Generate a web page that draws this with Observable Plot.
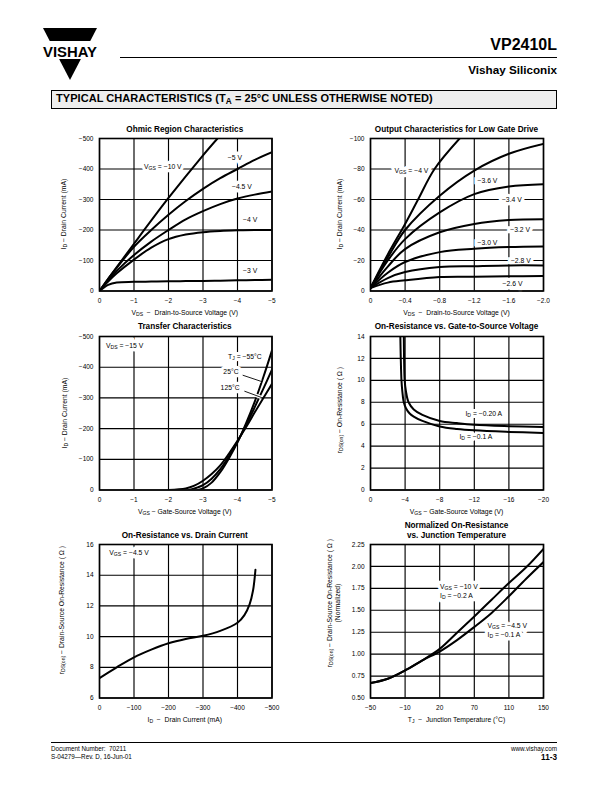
<!DOCTYPE html>
<html><head><meta charset="utf-8">
<script src="https://cdn.jsdelivr.net/npm/d3@7"></script>
<script src="https://cdn.jsdelivr.net/npm/@observablehq/plot@0.6"></script>
<style>
html,body{margin:0;padding:0;background:#fff;}
#page{position:relative;width:612px;height:792px;overflow:hidden;font-family:"Liberation Sans",Arial,Helvetica,sans-serif;color:#000;background:#fff;}
.abs{position:absolute;white-space:pre;}
sub{font-size:75%;vertical-align:-0.28em;line-height:0;}
</style></head><body><div id="page"></div>
<script>
// ---------------- DATA ----------------
// Ohmic Region Characteristics
const ohmicVds = [0, -0.25, -0.5, -1, -1.5, -2, -2.5, -3, -3.5, -4, -4.5, -5];
const ohmicId_5 = [0, -40, -76, -145, -200, -250, -295, -335, -370, -400, -430, -455];
const ohmicId_4p5 = [0, -35, -66, -118, -162, -200, -235, -262, -285, -303, -316, -326];
const ohmicId_4 = [0, -31, -58, -103, -142, -170, -185, -193, -197, -199, -200, -200];
const ohmicId_3 = [0, -20, -28, -30, -31, -32, -32.5, -33, -34, -35, -36, -37];
const ohmicVds_10 = [0, -0.5, -1, -2, -3, -3.42];
const ohmicId_10 = [0, -78, -155, -305, -445, -500];
const ohmicXTicks = [0, -1, -2, -3, -4, -5];
const ohmicXLabels = ["0", "−1", "−2", "−3", "−4", "−5"];
const ohmicYTicks = [0, -100, -200, -300, -400, -500];
const ohmicYLabels = ["0", "−100", "−200", "−300", "−400", "−500"];
const ohmicNotes = [
  {x: -1.29, y: -406, t: "V_{GS} = −10 V", a: "start"},
  {x: -3.72, y: -436, t: "−5 V", a: "start"},
  {x: -3.84, y: -341, t: "−4.5 V", a: "start"},
  {x: -4.16, y: -233, t: "−4 V", a: "start"},
  {x: -4.16, y: -66, t: "−3 V", a: "start"}
];

// Output Characteristics for Low Gate Drive
const outVds = [0, -0.2, -0.4, -0.8, -1.2, -1.6, -2.0];
const outId_3p6 = [-2, -22, -40, -62.5, -79, -90, -96.5];
const outId_3p4 = [-2, -20, -34, -51.5, -63.5, -68.5, -70];
const outId_3p2 = [-2, -16, -27.5, -38.5, -44, -46.5, -47];
const outId_3p0 = [-2, -12, -19, -25.5, -27.7, -28.8, -29.2];
const outId_2p8 = [-2, -8.5, -12.4, -15.7, -16.3, -16.8, -16.8];
const outId_2p6 = [-2, -5.5, -7, -9.2, -9.4, -9.6, -9.8];
const outVds_4 = [0, -0.2, -0.4, -0.55, -0.74, -1.03];
const outId_4 = [-2, -24, -44, -60, -80, -100];
const outXTicks = [0, -0.4, -0.8, -1.2, -1.6, -2.0];
const outXLabels = ["0", "−0.4", "−0.8", "−1.2", "−1.6", "−2.0"];
const outYTicks = [0, -20, -40, -60, -80, -100];
const outYLabels = ["0", "−20", "−40", "−60", "−80", "−100"];
const outNotes = [
  {x: -0.278, y: -78.7, t: "V_{GS} = −4 V", a: "start"},
  {x: -1.237, y: -72.1, t: "−3.6 V", a: "start"},
  {x: -1.519, y: -59.7, t: "−3.4 V", a: "start"},
  {x: -1.615, y: -39.8, t: "−3.2 V", a: "start"},
  {x: -1.237, y: -31.3, t: "−3.0 V", a: "start"},
  {x: -1.623, y: -19.7, t: "−2.8 V", a: "start"},
  {x: -1.527, y: -4.8, t: "−2.6 V", a: "start"}
];

// Transfer Characteristics
const trVgs_m55 = [-2.85, -3.0, -3.25, -3.5, -3.75, -4, -4.25, -4.5, -4.75, -5];
const trId_m55 = [0, -5, -24, -58, -103, -155, -218, -288, -368, -455];
const trVgs_25 = [-2.6, -3.0, -3.25, -3.5, -3.75, -4, -4.25, -4.5, -4.75, -5];
const trId_25 = [0, -16, -37, -68, -110, -158, -212, -270, -330, -392];
const trVgs_125 = [-2.0, -2.5, -2.75, -3.0, -3.25, -3.5, -3.75, -4, -4.25, -4.5, -4.75, -5];
const trId_125 = [0, -5, -14, -30, -52, -80, -118, -160, -205, -253, -300, -346];
const trXTicks = [0, -1, -2, -3, -4, -5];
const trXLabels = ["0", "−1", "−2", "−3", "−4", "−5"];
const trYTicks = [0, -100, -200, -300, -400, -500];
const trYLabels = ["0", "−100", "−200", "−300", "−400", "−500"];
const trNotes = [
  {x: -0.188, y: -470.7, t: "V_{DS} = −15 V", a: "start"},
  {x: -4.70, y: -435, t: "T_{J} = −55°C", a: "end"},
  {x: -4.03, y: -384, t: "25°C", a: "end"},
  {x: -4.06, y: -333, t: "125°C", a: "end"}
];
const trLeaders = [
  {x1: -4.15, y1: -374, x2: -4.68, y2: -354},
  {x1: -4.20, y1: -322, x2: -4.68, y2: -302}
];

// On-Resistance vs. Gate-to-Source Voltage
const rgVgs_020 = [-3.85, -3.88, -3.95, -4.1, -4.4, -5, -6, -8, -10, -12, -16, -20];
const rgR_020 = [14, 12, 10, 9, 8, 7.35, 6.85, 6.3, 6.1, 5.95, 5.82, 5.74];
const rgVgs_01 = [-3.45, -3.5, -3.58, -3.68, -3.85, -4.1, -4.5, -5, -6, -8, -10, -12, -16, -20];
const rgR_01 = [14, 12, 10, 9, 8, 7.45, 7.0, 6.7, 6.3, 5.8, 5.57, 5.44, 5.3, 5.2];
const rgXTicks = [0, -4, -8, -12, -16, -20];
const rgXLabels = ["0", "−4", "−8", "−12", "−16", "−20"];
const rgYTicks = [0, 2, 4, 6, 8, 10, 12, 14];
const rgYLabels = ["0", "2", "4", "6", "8", "10", "12", "14"];
const rgNotes = [
  {x: -10.98, y: 6.95, t: "I_{D} = −0.20 A", a: "start"},
  {x: -10.28, y: 4.85, t: "I_{D} = −0.1 A", a: "start"}
];

// On-Resistance vs. Drain Current
const rdId = [0, -50, -100, -150, -200, -250, -300, -350, -400, -420, -435, -445, -452];
const rdR = [7.3, 8.0, 8.65, 9.15, 9.57, 9.85, 10.05, 10.37, 10.9, 11.4, 12.1, 13.0, 14.35];
const rdXTicks = [0, -100, -200, -300, -400, -500];
const rdXLabels = ["0", "−100", "−200", "−300", "−400", "−500"];
const rdYTicks = [6, 8, 10, 12, 14, 16];
const rdYLabels = ["6", "8", "10", "12", "14", "16"];
const rdNotes = [{x: -28.4, y: 15.43, t: "V_{GS} = −4.5 V", a: "start"}];

// Normalized On-Resistance vs. Junction Temperature
const ntTj = [-50, -30, -10, 10, 30, 50, 70, 90, 110, 130, 150];
const ntR_10V = [0.67, 0.72, 0.815, 0.93, 1.06, 1.245, 1.43, 1.62, 1.81, 1.99, 2.2];
const ntR_4p5V = [0.67, 0.72, 0.815, 0.93, 1.03, 1.16, 1.31, 1.47, 1.66, 1.86, 2.05];
const ntXTicks = [-50, -10, 30, 70, 110, 150];
const ntXLabels = ["−50", "−10", "20", "70", "110", "150"];
const ntYTicks = [0.5, 0.75, 1.0, 1.25, 1.5, 1.75, 2.0, 2.25];
const ntYLabels = ["0.50", "0.75", "1.00", "1.25", "1.50", "1.75", "2.00", "2.25"];
const ntNotes = [
  {x: 30.4, y: 1.763, t: "V_{GS} = −10 V", a: "start"},
  {x: 30.4, y: 1.669, t: "I_{D} = −0.2 A", a: "start"},
  {x: 85.3, y: 1.319, t: "V_{GS} = −4.5 V", a: "start"},
  {x: 85.3, y: 1.22, t: "I_{D} = −0.1 A", a: "start"}
];

// ---------------- HELPERS ----------------
const FONT = '"Liberation Sans", Arial, Helvetica, sans-serif';
const page = document.getElementById("page");
const SVGNS = "http://www.w3.org/2000/svg";

function pts(xs, ys) { return xs.map((x, i) => ({x, y: ys[i]})); }
function mapFmt(ticks, labels) {
  const m = new Map(ticks.map((t, i) => [t, labels[i]]));
  return d => (m.has(d) ? m.get(d) : "");
}
function subify(svg) {
  const walker = document.createTreeWalker(svg, NodeFilter.SHOW_TEXT);
  const nodes = [];
  while (walker.nextNode()) if (walker.currentNode.nodeValue.includes("_{")) nodes.push(walker.currentNode);
  for (const n of nodes) {
    const frag = document.createDocumentFragment();
    for (const part of n.nodeValue.split(/(_\{[^}]*\})/)) {
      if (!part) continue;
      const t = document.createElementNS(SVGNS, "tspan");
      if (part.startsWith("_{")) {
        t.textContent = part.slice(2, -1);
        t.setAttribute("baseline-shift", "-25%");
        t.setAttribute("font-size", "75%");
      } else t.textContent = part;
      frag.appendChild(t);
    }
    n.parentNode.replaceChild(frag, n);
  }
}
function toHtml(s) {
  return s.replace(/_\{([^}]*)\}/g, "<sub>$1</sub>");
}
function htmlText(s, cx, cy, size, opts = {}) {
  const d = document.createElement("div");
  d.className = "abs";
  d.innerHTML = toHtml(s);
  const w = 300;
  Object.assign(d.style, {
    left: (cx - w / 2) + "px", top: (cy - 0.6 * size) + "px", width: w + "px",
    height: (1.2 * size) + "px", lineHeight: (1.2 * size) + "px",
    fontSize: size + "px", textAlign: "center", fontWeight: opts.bold ? "bold" : "normal"
  });
  if (opts.rotate) d.style.transform = "rotate(-90deg)";
  page.appendChild(d);
}

function noteMarks(notes) {
  const base = {x: "x", y: "y", text: "t", fontSize: 6.8};
  const halo = {...base, fill: "white", stroke: "white", strokeWidth: 6.5, strokeLinejoin: "miter"};
  const ink = {...base, fill: "black"};
  const starts = notes.filter(d => d.a !== "end"), ends = notes.filter(d => d.a === "end");
  return [
    Plot.text(starts, {...halo, textAnchor: "start"}),
    Plot.text(ends, {...halo, textAnchor: "end"}),
    Plot.text(starts, {...ink, textAnchor: "start"}),
    Plot.text(ends, {...ink, textAnchor: "end"})
  ];
}

function makeChart(cfg) {
  const [fx0, fy0, fx1, fy1] = cfg.frame;
  const mL = 40, mR = 12, mT = 8, mB = 22;
  const W = fx1 - fx0 + mL + mR, H = fy1 - fy0 + mT + mB;
  const marks = [
    Plot.ruleX(cfg.xTicks, {stroke: "black", strokeWidth: 1.15}),
    Plot.ruleY(cfg.yTicks, {stroke: "black", strokeWidth: 1.15}),
    ...noteMarks(cfg.notes || []),
    ...cfg.series.map(s => Plot.line(s, {x: "x", y: "y", stroke: "black", strokeWidth: 2,
      curve: "catmull-rom", clip: true})),
    ...(cfg.extra || []),
    Plot.frame({stroke: "black", strokeWidth: 1.6})
  ];
  const svg = Plot.plot({
    width: W, height: H, marginLeft: mL, marginRight: mR, marginTop: mT, marginBottom: mB,
    style: {fontFamily: FONT, fontSize: "6.5px", background: "transparent", color: "black", overflow: "visible"},
    x: {domain: cfg.xDomain, ticks: cfg.xTicks, tickFormat: mapFmt(cfg.xTicks, cfg.xLabels),
      tickSize: 0, tickPadding: 7.5, label: null},
    y: {domain: cfg.yDomain, ticks: cfg.yTicks, tickFormat: mapFmt(cfg.yTicks, cfg.yLabels),
      tickSize: 0, tickPadding: 6, label: null},
    marks
  });
  subify(svg);
  svg.style.position = "absolute";
  svg.style.left = (fx0 - mL) + "px";
  svg.style.top = (fy0 - mT) + "px";
  page.appendChild(svg);
}

// ---------------- LAYOUT ----------------
const LX0 = 98.5, LX1 = 271, RX0 = 370, RX1 = 543;
const R1 = [137.5, 290], R2 = [336, 489.5], R3 = [544, 697.5];
const LC = (LX0 + LX1) / 2, RC = (RX0 + RX1) / 2;

// Header
page.insertAdjacentHTML("beforeend", `
<svg class="abs" style="left:43px;top:27px;overflow:visible" width="56" height="56">
  <polygon points="0,1 54,1 47.25,14 6.75,14" fill="#000"/>
  <polygon points="16.1,32 37.9,32 27,53" fill="#000"/>
  <text x="27" y="29.5" text-anchor="middle" font-family='${FONT}' font-weight="bold" font-size="14.5"
    textLength="54" lengthAdjust="spacingAndGlyphs">VISHAY</text>
</svg>
<div class="abs" style="right:55px;top:35px;font-size:16px;font-weight:bold;line-height:19px;">VP2410L</div>
<div class="abs" style="left:120px;top:56.5px;width:437px;height:0;border-top:1.2px solid #000;"></div>
<div class="abs" style="right:55px;top:63px;font-size:11.7px;font-weight:bold;line-height:14px;">Vishay Siliconix</div>
<div class="abs" style="left:51px;top:89.5px;width:504px;height:17.5px;border:1px solid #000;background:#eeeeee;"></div>
<div class="abs" style="left:56px;top:92px;font-size:11px;font-weight:bold;line-height:13px;letter-spacing:0.05px;">TYPICAL CHARACTERISTICS (T<sub>A</sub> = 25°C UNLESS OTHERWISE NOTED)</div>
<div class="abs" style="left:51px;top:741.5px;width:506px;height:0;border-top:1.2px solid #000;"></div>
<div class="abs" style="left:51px;top:745px;font-size:6.3px;line-height:7.5px;">Document Number:  70211
S-04279—Rev. D, 16-Jun-01</div>
<div class="abs" style="right:55px;top:745px;font-size:6.3px;line-height:7.5px;">www.vishay.com</div>
<div class="abs" style="right:55px;top:752.5px;font-size:8.2px;font-weight:bold;line-height:9px;">11-3</div>
`);

// Charts
makeChart({
  frame: [LX0, R1[0], LX1, R1[1]], xDomain: [0, -5], yDomain: [0, -500],
  xTicks: ohmicXTicks, xLabels: ohmicXLabels, yTicks: ohmicYTicks, yLabels: ohmicYLabels,
  series: [pts(ohmicVds_10, ohmicId_10), pts(ohmicVds, ohmicId_5), pts(ohmicVds, ohmicId_4p5),
    pts(ohmicVds, ohmicId_4), pts(ohmicVds, ohmicId_3)],
  notes: ohmicNotes
});
makeChart({
  frame: [RX0, R1[0], RX1, R1[1]], xDomain: [0, -2], yDomain: [0, -100],
  xTicks: outXTicks, xLabels: outXLabels, yTicks: outYTicks, yLabels: outYLabels,
  series: [pts(outVds_4, outId_4), pts(outVds, outId_3p6), pts(outVds, outId_3p4), pts(outVds, outId_3p2),
    pts(outVds, outId_3p0), pts(outVds, outId_2p8), pts(outVds, outId_2p6)],
  notes: outNotes
});
makeChart({
  frame: [LX0, R2[0], LX1, R2[1]], xDomain: [0, -5], yDomain: [0, -500],
  xTicks: trXTicks, xLabels: trXLabels, yTicks: trYTicks, yLabels: trYLabels,
  series: [pts(trVgs_m55, trId_m55), pts(trVgs_25, trId_25), pts(trVgs_125, trId_125)],
  notes: trNotes,
  extra: [
    Plot.link(trLeaders, {x1: "x1", y1: "y1", x2: "x2", y2: "y2", stroke: "white", strokeWidth: 3.5}),
    Plot.link(trLeaders, {x1: "x1", y1: "y1", x2: "x2", y2: "y2", stroke: "black", strokeWidth: 0.9})
  ]
});
makeChart({
  frame: [RX0, R2[0], RX1, R2[1]], xDomain: [0, -20], yDomain: [0, 14],
  xTicks: rgXTicks, xLabels: rgXLabels, yTicks: rgYTicks, yLabels: rgYLabels,
  series: [pts(rgVgs_020, rgR_020), pts(rgVgs_01, rgR_01)],
  notes: rgNotes
});
makeChart({
  frame: [LX0, R3[0], LX1, R3[1]], xDomain: [0, -500], yDomain: [6, 16],
  xTicks: rdXTicks, xLabels: rdXLabels, yTicks: rdYTicks, yLabels: rdYLabels,
  series: [pts(rdId, rdR)],
  notes: rdNotes
});
makeChart({
  frame: [RX0, R3[0], RX1, R3[1]], xDomain: [-50, 150], yDomain: [0.5, 2.25],
  xTicks: ntXTicks, xLabels: ntXLabels, yTicks: ntYTicks, yLabels: ntYLabels,
  series: [pts(ntTj, ntR_10V), pts(ntTj, ntR_4p5V)],
  notes: ntNotes
});

// Titles
htmlText("Ohmic Region Characteristics", LC, 129.5, 8.2, {bold: true});
htmlText("Output Characteristics for Low Gate Drive", RC, 129.5, 8.2, {bold: true});
htmlText("Transfer Characteristics", LC, 326.5, 8.2, {bold: true});
htmlText("On-Resistance vs. Gate-to-Source Voltage", RC, 326.5, 8.2, {bold: true});
htmlText("On-Resistance vs. Drain Current", LC, 536, 8.2, {bold: true});
htmlText("Normalized On-Resistance", RC, 525.5, 8.2, {bold: true});
htmlText("vs. Junction Temperature", RC, 535.5, 8.2, {bold: true});

// Axis labels
htmlText("V_{DS}  −  Drain-to-Source Voltage (V)", LC, 313, 6.8);
htmlText("V_{DS}  −  Drain-to-Source Voltage (V)", RC, 313, 6.8);
htmlText("V_{GS} − Gate-Source Voltage (V)", LC, 512.5, 6.8);
htmlText("V_{GS} − Gate-Source Voltage (V)", RC, 512.5, 6.8);
htmlText("I_{D}  −  Drain Current (mA)", LC, 720.5, 6.8);
htmlText("T_{J}  −  Junction Temperature (°C)", RC, 720.5, 6.8);
htmlText("I_{D} − Drain Current (mA)", 64, (R1[0] + R1[1]) / 2, 6.8, {rotate: true});
htmlText("I_{D} − Drain Current (mA)", 340, (R1[0] + R1[1]) / 2, 6.8, {rotate: true});
htmlText("I_{D} − Drain Current (mA)", 65, (R2[0] + R2[1]) / 2, 6.8, {rotate: true});
htmlText("r_{DS(on)} − On-Resistance ( Ω )", 340, 410, 6.8, {rotate: true});
htmlText("r_{DS(on)} − Drain-Source On-Resistance ( Ω )", 62, 610, 6.8, {rotate: true});
htmlText("r_{DS(on)} − Drain-Source On-Resistance ( Ω )", 330, 603, 6.8, {rotate: true});
htmlText("(Normalized)", 338, 603, 6.8, {rotate: true});
</script></body></html>
